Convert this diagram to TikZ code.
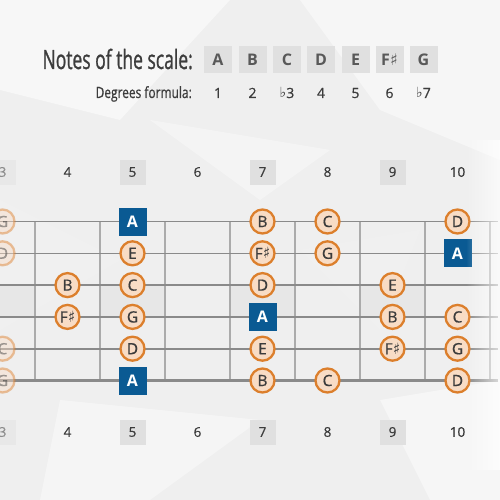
\documentclass[tikz,border=0pt]{standalone}
\usepackage{fontspec}
\setmainfont{Open Sans}
\newfontfamily\condf[FakeStretch=0.66,FakeBold=0.9]{Open Sans}
\newfontfamily\conds[FakeStretch=0.77,FakeBold=0.7]{Open Sans}
\newfontfamily\medf[FakeBold=0.6]{Open Sans}
\newfontfamily\symf{DejaVu Sans}
\newcommand\mysharp{{\symf\char"266F}}
\newcommand\myflat{{\symf\char"266D}}
\usetikzlibrary{fadings}
\definecolor{bg}{HTML}{EFEFEF}
\definecolor{ink}{HTML}{3C3C3C}
\definecolor{boxg}{HTML}{E0E0E0}
\definecolor{orng}{HTML}{DC7F2C}
\definecolor{peach}{HTML}{F8DCC5}
\definecolor{rootb}{HTML}{0A5A93}
\definecolor{strg}{HTML}{8A8A8A}
\definecolor{fretg}{HTML}{ABABAB}
\tikzset{
  notec/.style={circle, draw=orng, line width=2.3pt, fill=peach, minimum size=24pt, inner sep=0pt, text=ink, font=\medf\fontsize{15.5}{15.5}\selectfont},
  rootsq/.style={rectangle, fill=rootb, minimum size=28pt, inner sep=0pt, text=white, font=\bfseries\fontsize{16}{16}\selectfont},
  scalesq/.style={rectangle, fill=boxg, minimum width=28pt, minimum height=27pt, inner sep=0pt, text=ink!85, font=\bfseries\fontsize{16}{16}\selectfont},
  degtext/.style={text=ink, font=\medf\fontsize{14}{14}\selectfont},
  fretnum/.style={text=ink, font=\medf\fontsize{13.5}{13.5}\selectfont, inner sep=0pt, minimum width=26pt, minimum height=25pt},
  fretbox/.style={fretnum, fill=boxg},
  faded/.style={opacity=0.45},
  stringline/.style={draw=strg},
  fretline/.style={draw=fretg, line width=1.3pt},
}
\begin{document}
\begin{tikzpicture}[x=1pt,y=-1pt]
\useasboundingbox (0,0) rectangle (500,500);
% paper background
\fill[bg] (0,0) rectangle (500,500);
\fill[white,opacity=0.5] (0,0) -- (230,0) -- (120,120) -- (0,90) -- cycle;
\fill[white,opacity=0.45] (300,0) -- (500,0) -- (500,160) -- (380,110) -- cycle;
\fill[white,opacity=0.35] (150,120) -- (330,150) -- (260,200) -- cycle;
\fill[black!4,opacity=0.3] (0,200) -- (120,260) -- (0,330) -- cycle;
\fill[white,opacity=0.4] (60,400) -- (260,420) -- (150,500) -- (40,500) -- cycle;
\fill[black!5,opacity=0.3] (260,400) -- (420,470) -- (320,500) -- (220,500) -- cycle;
\fill[white,opacity=0.45] (380,400) -- (500,380) -- (500,500) -- (430,500) -- cycle;
\fill[black!4,opacity=0.3] (300,250) -- (420,230) -- (380,330) -- cycle;
% header
\node[text=ink, font=\condf\fontsize{26.5}{26.5}\selectfont, anchor=base east, inner sep=0pt] (title) at (193,69) {Notes of the scale:};
\node[text=ink, font=\conds\fontsize{15.5}{15.5}\selectfont, anchor=base east, inner sep=0pt] (degtitle) at (192,98) {Degrees formula:};
\foreach \nm/\x/\lab/\deg in {sA/218/A/1, sB/252.5/B/2, sC/287/C/\myflat3, sD/321/D/4, sE/355.5/E/5, sF/389.5/F\mysharp/6, sG/423.5/G/\myflat7}{
  \node[scalesq] (\nm) at (\x,59.5) {\lab};
  \node[degtext, anchor=base] (d\nm) at (\x,98) {\deg};
}
% inlay bands
\foreach \f in {3,5,7,9}{
  \fill[black!15,opacity=0.35] ({2.5+65*(\f-3)-32.5},285.1) rectangle ({2.5+65*(\f-3)+32.5},316.9);
}
% frets
\foreach \k in {0,...,7}{
  \coordinate (ft\k) at ({35+65*\k},221.5);
  \coordinate (fb\k) at ({35+65*\k},380.5);
  \draw[fretline] (ft\k) -- (fb\k);
}
% strings
\foreach \s/\w in {1/1.3,2/1.45,3/1.6,4/1.8,5/1.95,6/2.1}{
  \coordinate (sl\s) at (0,{221.5+31.8*(\s-1)});
  \coordinate (sr\s) at (498,{221.5+31.8*(\s-1)});
  \draw[stringline, line width=\w pt] (sl\s) -- (sr\s);
}
% fret numbers
\foreach \f in {4,6,8,10}{
  \node[fretnum] (nt\f) at ({2.5+65*(\f-3)},172) {\f};
  \node[fretnum] (nb\f) at ({2.5+65*(\f-3)},432) {\f};
}
\foreach \f in {5,7,9}{
  \node[fretbox] (nt\f) at ({2.5+65*(\f-3)},172) {\f};
  \node[fretbox] (nb\f) at ({2.5+65*(\f-3)},432) {\f};
}
\node[fretbox,faded] (nt3) at (2.5,172) {3};
\node[fretbox,faded] (nb3) at (2.5,432) {3};
% notes: string/fret/label
\foreach \s/\f/\lab in {1/7/B, 1/8/C, 1/10/D,
  2/5/E, 2/7/F\mysharp, 2/8/G,
  3/4/B, 3/5/C, 3/7/D, 3/9/E,
  4/4/F\mysharp, 4/5/G, 4/9/B, 4/10/C,
  5/5/D, 5/7/E, 5/9/F\mysharp, 5/10/G,
  6/7/B, 6/8/C, 6/10/D}{
  \node[notec] (n\s-\f) at ({2.5+65*(\f-3)},{221.5+31.8*(\s-1)}) {\lab};
}
\foreach \s/\lab in {1/G,2/D,5/C,6/G}{
  \node[notec,faded] (n\s-3) at (2.5,{221.5+31.8*(\s-1)}) {\lab};
}
\foreach \s/\f in {1/5, 2/10, 4/7, 6/5}{
  \node[rootsq] (n\s-\f) at ({2.5+65*(\f-3)},{221.5+31.8*(\s-1)}) {A};
}
% right edge fade
\fill[white, path fading=west, opacity=0.7] (466,140) rectangle (500,470);
\end{tikzpicture}
\end{document}
